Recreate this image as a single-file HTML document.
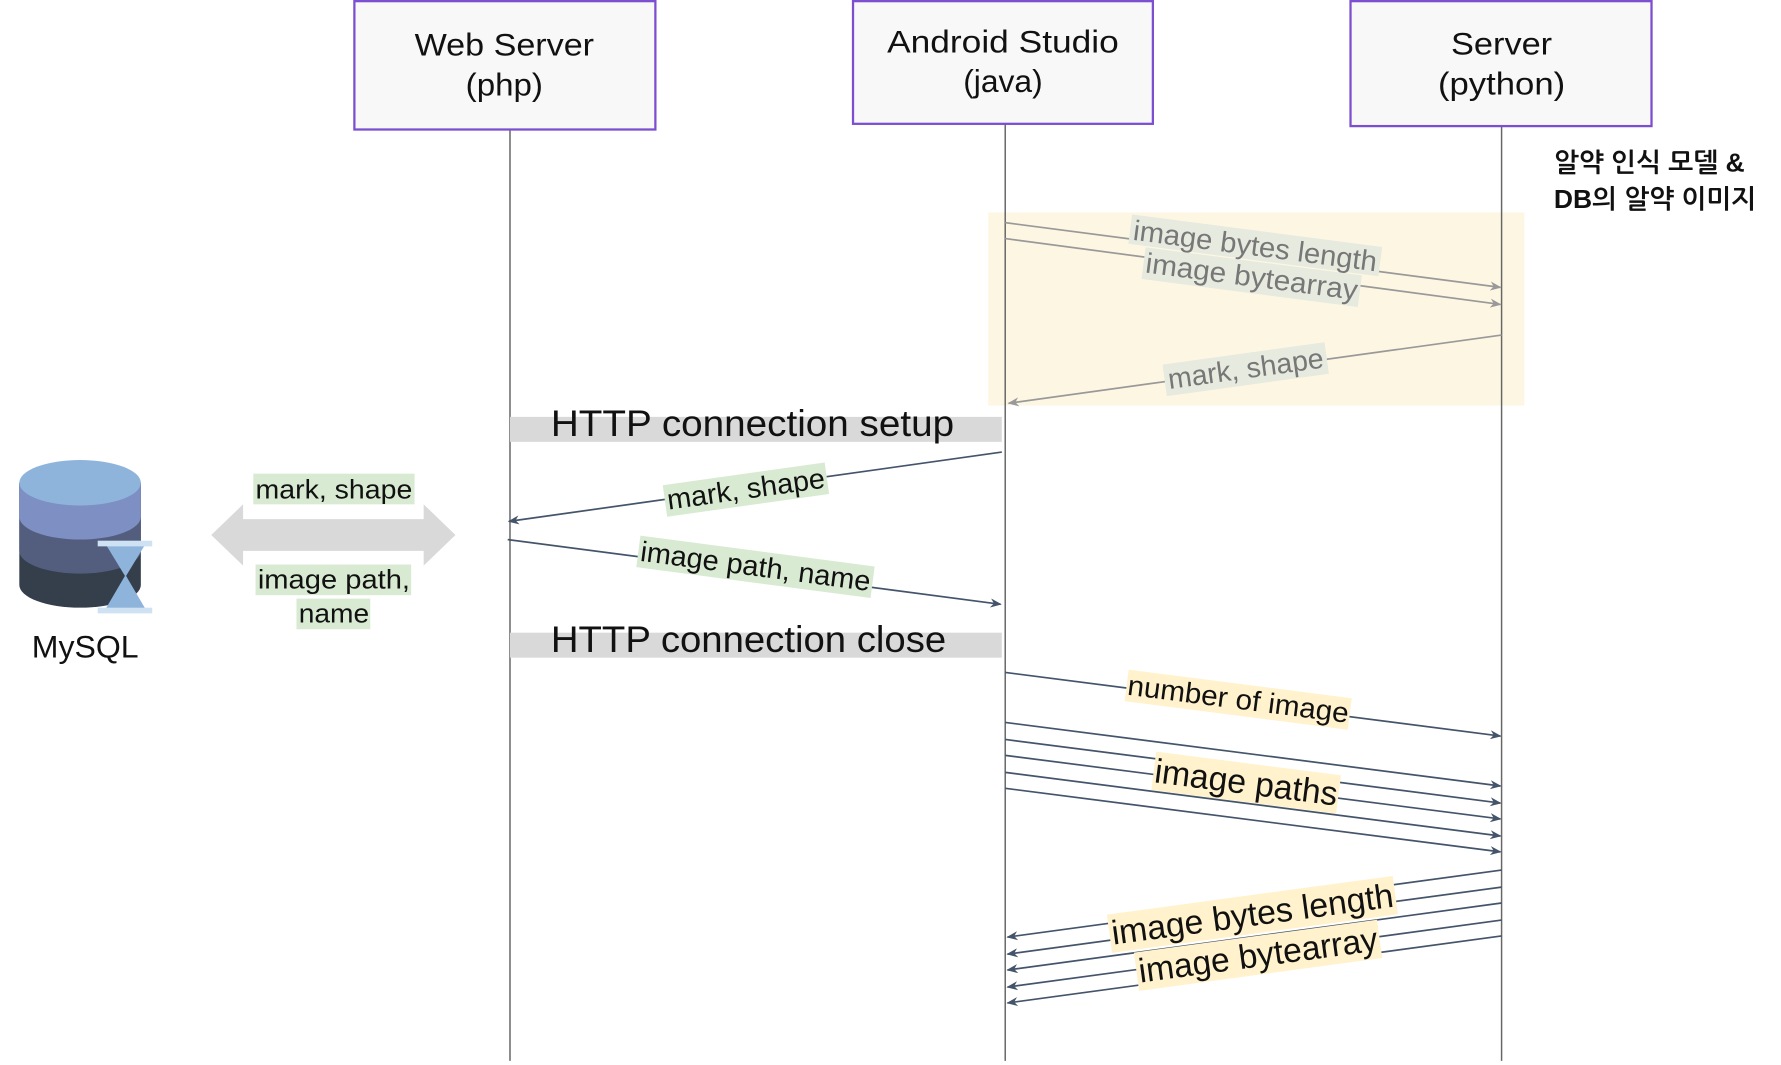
<!DOCTYPE html>
<html><head><meta charset="utf-8"><style>
html,body{margin:0;padding:0;background:#fff;}
svg{display:block;}
text{font-family:"Liberation Sans","NanumGothic","Noto Sans CJK KR",sans-serif;}
</style></head><body>
<svg width="1781" height="1065" viewBox="0 0 1568 937.6" xmlns="http://www.w3.org/2000/svg">
<defs>
<marker id="ad" markerWidth="10" markerHeight="8" refX="9" refY="4" orient="auto" markerUnits="userSpaceOnUse"><path d="M0,0 L10,4 L0,8 L3,4 Z" fill="#44546a"/></marker>
<marker id="ag" markerWidth="10" markerHeight="8" refX="9" refY="4" orient="auto" markerUnits="userSpaceOnUse"><path d="M0,0 L10,4 L0,8 L3,4 Z" fill="#999"/></marker>
</defs>
<rect x="870" y="187" width="472" height="170" fill="#fdf6e3"/>
<g stroke="#666" stroke-width="1.3">
<line x1="449" y1="114" x2="449" y2="934"/>
<line x1="885" y1="109" x2="885" y2="934"/>
<line x1="1322" y1="111" x2="1322" y2="934"/>
</g>
<g fill="#f8f8f8" stroke="#7b4fd0" stroke-width="2">
<rect x="312" y="1" width="265" height="113"/>
<rect x="751" y="1" width="264" height="108"/>
<rect x="1189" y="1" width="265" height="110"/>
</g>
<g font-size="28" text-anchor="middle" fill="#111">
<text x="444" y="49" textLength="158" lengthAdjust="spacingAndGlyphs">Web Server</text><text x="444" y="84" textLength="68" lengthAdjust="spacingAndGlyphs">(php)</text>
<text x="883" y="46" textLength="204" lengthAdjust="spacingAndGlyphs">Android Studio</text><text x="883" y="81" textLength="70" lengthAdjust="spacingAndGlyphs">(java)</text>
<text x="1322" y="48" textLength="89" lengthAdjust="spacingAndGlyphs">Server</text><text x="1322" y="83" textLength="112" lengthAdjust="spacingAndGlyphs">(python)</text>
</g>
<g font-size="23" font-weight="bold" fill="#111">
<text x="1368" y="151" textLength="168" lengthAdjust="spacingAndGlyphs">알약 인식 모델 &amp;</text>
<text x="1368" y="183" textLength="178" lengthAdjust="spacingAndGlyphs">DB의 알약 이미지</text>
</g>
<g stroke="#999" stroke-width="1.5">
<line x1="885" y1="196" x2="1321" y2="253" marker-end="url(#ag)"/>
<line x1="885" y1="210" x2="1321" y2="268" marker-end="url(#ag)"/>
<line x1="1322" y1="295" x2="888" y2="355" marker-end="url(#ag)"/>
</g>
<g font-size="25" text-anchor="middle" fill="#777">
<g transform="translate(1105,217) rotate(7.4)"><rect x="-111" y="-14" width="222" height="26" fill="#e6eadf"/><text y="8" textLength="216" lengthAdjust="spacingAndGlyphs">image bytes length</text></g>
<g transform="translate(1102,244) rotate(7.4)"><rect x="-96" y="-14" width="192" height="28" fill="#e6eadf"/><text y="8" textLength="188" lengthAdjust="spacingAndGlyphs">image bytearray</text></g>
<g transform="translate(1097,327) rotate(-7.9)"><rect x="-72" y="-16" width="144" height="28" fill="#e6eadf"/><text y="6" textLength="138" lengthAdjust="spacingAndGlyphs">mark, shape</text></g>
</g>
<rect x="449" y="367" width="433" height="22" fill="#d9d9d9"/>
<rect x="449" y="557" width="433" height="22" fill="#d9d9d9"/>
<g font-size="33" fill="#111">
<text x="485" y="384" textLength="355" lengthAdjust="spacingAndGlyphs">HTTP connection setup</text>
<text x="485" y="574" textLength="348" lengthAdjust="spacingAndGlyphs">HTTP connection close</text>
</g>
<g stroke="#44546a" stroke-width="1.5">
<line x1="882" y1="398" x2="448" y2="459" marker-end="url(#ad)"/>
<line x1="447" y1="475" x2="881" y2="532" marker-end="url(#ad)"/>
<line x1="885" y1="592" x2="1321" y2="648" marker-end="url(#ad)"/>
<line x1="885" y1="636" x2="1321" y2="692" marker-end="url(#ad)"/>
<line x1="885" y1="651" x2="1321" y2="707" marker-end="url(#ad)"/>
<line x1="885" y1="665" x2="1321" y2="721" marker-end="url(#ad)"/>
<line x1="885" y1="680" x2="1321" y2="736" marker-end="url(#ad)"/>
<line x1="885" y1="694" x2="1321" y2="750" marker-end="url(#ad)"/>
<line x1="1322" y1="766" x2="887" y2="825" marker-end="url(#ad)"/>
<line x1="1322" y1="781" x2="887" y2="840" marker-end="url(#ad)"/>
<line x1="1322" y1="795" x2="887" y2="854" marker-end="url(#ad)"/>
<line x1="1322" y1="810" x2="887" y2="869" marker-end="url(#ad)"/>
<line x1="1322" y1="824" x2="887" y2="883" marker-end="url(#ad)"/>
</g>
<g font-size="25" text-anchor="middle" fill="#111">
<g transform="translate(657,433) rotate(-8)"><rect x="-72" y="-16" width="144" height="28" fill="#d9ead3"/><text y="6" textLength="140" lengthAdjust="spacingAndGlyphs">mark, shape</text></g>
<g transform="translate(665,500) rotate(7.5)"><rect x="-104" y="-15" width="208" height="28" fill="#d9ead3"/><text y="7" textLength="204" lengthAdjust="spacingAndGlyphs">image path, name</text></g>
<g transform="translate(1090,617) rotate(7.3)"><rect x="-99" y="-15" width="198" height="28" fill="#fff2cc"/><text y="7" textLength="196" lengthAdjust="spacingAndGlyphs">number of image</text></g>
</g>
<g font-size="30" text-anchor="middle" fill="#111">
<g transform="translate(1097,690) rotate(7.3)"><rect x="-82" y="-18" width="164" height="34" fill="#fff2cc"/><text y="9" textLength="162" lengthAdjust="spacingAndGlyphs">image paths</text></g>
<g transform="translate(1103,808) rotate(-7.7)"><rect x="-127" y="-20" width="254" height="34" fill="#fff2cc"/><text y="7" textLength="250" lengthAdjust="spacingAndGlyphs">image bytes length</text></g>
<g transform="translate(1108,844) rotate(-7.7)"><rect x="-108" y="-20" width="216" height="34" fill="#fff2cc"/><text y="7" textLength="212" lengthAdjust="spacingAndGlyphs">image bytearray</text></g>
</g>
<path d="M186,471 L214,444 L214,457 L373,457 L373,444 L401,471 L373,498 L373,485 L214,485 L214,498 Z" fill="#d9d9d9"/>
<g font-size="24" text-anchor="middle" fill="#111">
<rect x="223" y="417" width="142" height="27" fill="#d9ead3"/><text x="294" y="439" textLength="138" lengthAdjust="spacingAndGlyphs">mark, shape</text>
<rect x="225" y="497" width="137" height="27" fill="#d9ead3"/><text x="294" y="518" textLength="134" lengthAdjust="spacingAndGlyphs">image path,</text>
<rect x="261" y="527" width="65" height="27" fill="#d9ead3"/><text x="294" y="548" textLength="62" lengthAdjust="spacingAndGlyphs">name</text>
</g>
<path d="M17,425 L17,515 A53.5,20 0 0 0 124,515 L124,425 Z" fill="#353f4c"/>
<path d="M17,425 L17,485 A53.5,20 0 0 0 124,485 L124,425 Z" fill="#535d7e"/>
<path d="M17,425 L17,455 A53.5,20 0 0 0 124,455 L124,425 Z" fill="#7e8fc4"/>
<ellipse cx="70.5" cy="425" rx="53.5" ry="20" fill="#8fb4dc"/>
<path d="M93,479 L128,479 L111,507 L128,536 L93,536 L110,507 Z" fill="#8fb4dc"/>
<rect x="86" y="476" width="48" height="5" fill="#cfe2f3"/>
<rect x="86" y="535" width="48" height="5" fill="#cfe2f3"/>
<text x="75" y="579" font-size="28" text-anchor="middle" fill="#111" textLength="94" lengthAdjust="spacingAndGlyphs">MySQL</text>
</svg>
</body></html>
